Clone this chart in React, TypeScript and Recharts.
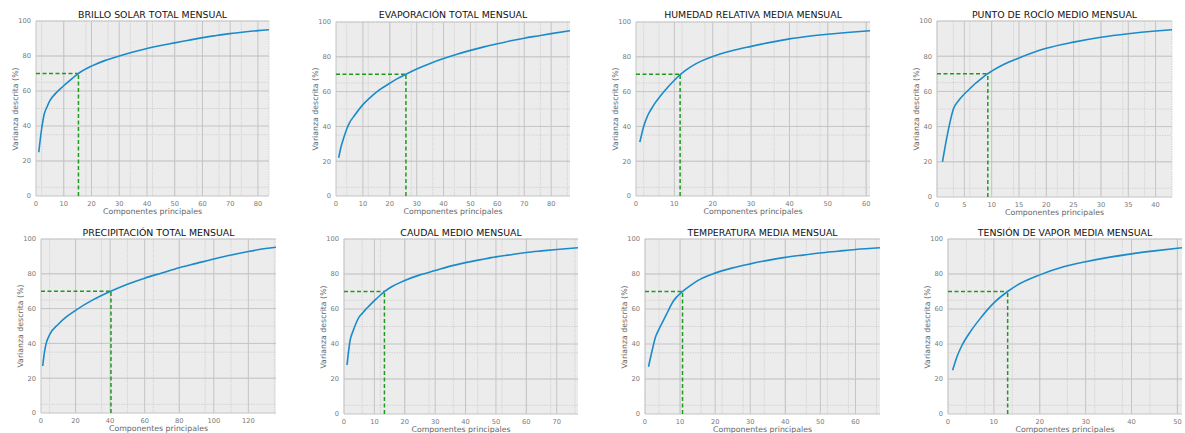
import React from 'react';
import { CartesianGrid, Line, LineChart, ReferenceLine, XAxis, YAxis } from 'recharts';

const titles = [
  'BRILLO SOLAR TOTAL MENSUAL',
  'EVAPORACIÓN TOTAL MENSUAL',
  'HUMEDAD RELATIVA MEDIA MENSUAL',
  'PUNTO DE ROCÍO MEDIO MENSUAL',
  'PRECIPITACIÓN TOTAL MENSUAL',
  'CAUDAL MEDIO MENSUAL',
  'TEMPERATURA MEDIA MENSUAL',
  'TENSIÓN DE VAPOR MEDIA MENSUAL',
];

const brilloX = [1, 2, 3, 4, 5, 7, 10, 12, 15, 20, 25, 30, 35, 40, 45, 50, 55, 60, 65, 70, 75, 80, 84];
const brilloY = [25, 38, 47, 51, 54.5, 58.5, 63, 65.8, 69.7, 74.2, 77.5, 80, 82.3, 84.3, 86, 87.5, 89, 90.5, 91.7, 92.8, 93.7, 94.5, 95];

const evapX = [1, 2, 3, 4, 5, 7, 10, 13, 16, 20, 23, 26, 30, 35, 40, 45, 50, 55, 60, 65, 70, 75, 80, 87];
const evapY = [22, 29, 34, 38.5, 42, 46.5, 52.5, 57, 60.8, 64.8, 67.6, 70, 73, 76.2, 79, 81.5, 83.7, 85.7, 87.5, 89.2, 90.7, 92, 93.3, 95];

const humedadX = [1, 2, 3, 4, 5, 6, 7, 8, 9, 10, 11, 12, 13, 15, 17, 20, 25, 30, 35, 40, 45, 50, 55, 61];
const humedadY = [31, 40, 46, 50, 53.5, 56.5, 59.2, 61.8, 64.2, 66.5, 68.7, 70.6, 72.3, 75.2, 77.5, 80.2, 83.5, 86, 88.3, 90.3, 91.8, 93, 94, 95];

const rocioX = [1, 2, 3, 4, 5, 6, 7, 8, 9, 10, 12, 15, 20, 25, 30, 35, 40, 43];
const rocioY = [20, 37, 50, 55, 58.5, 61.5, 64.5, 67, 69.5, 71.5, 75, 79, 84.5, 88, 90.8, 92.8, 94.3, 95];

const precipX = [1, 2, 3, 5, 10, 15, 20, 30, 40, 50, 60, 70, 80, 90, 100, 110, 120, 130, 136];
const precipY = [27, 35, 40, 45, 51, 55.5, 59, 65, 69.8, 74, 77.5, 80.5, 83.5, 86, 88.5, 90.8, 92.8, 94.5, 95.3];

const caudalX = [1, 2, 3, 4, 5, 6, 7, 8, 10, 12, 13, 15, 20, 25, 30, 35, 40, 45, 50, 55, 60, 65, 70, 77];
const caudalY = [28, 42, 47.5, 52, 55.5, 57.5, 59.5, 61.3, 64.8, 68, 69.5, 72, 76.3, 79.5, 82, 84.5, 86.5, 88.2, 89.8, 91, 92.3, 93.2, 94, 95];

const tempX = [1, 2, 3, 4, 5, 6, 7, 8, 9, 10, 11, 13, 15, 20, 25, 30, 35, 40, 45, 50, 55, 60, 67];
const tempY = [27, 36, 44, 48.5, 52.5, 56.5, 60.5, 64.3, 66.8, 68.8, 70.5, 73.5, 76.2, 80.5, 83.5, 85.8, 87.8, 89.5, 90.8, 92, 93, 94, 95];

const tensionX = [1, 2, 3, 5, 7, 10, 13, 15, 20, 25, 30, 35, 40, 45, 51];
const tensionY = [25, 33, 39, 47.5, 54.5, 63.5, 70, 73.5, 79.5, 84, 87, 89.5, 91.5, 93.2, 95];

const seriesX = [brilloX, evapX, humedadX, rocioX, precipX, caudalX, tempX, tensionX];
const seriesY = [brilloY, evapY, humedadY, rocioY, precipY, caudalY, tempY, tensionY];

// componentes necesarios para el 70 %
const thresholdPct = 70;
const thresholdComp = [15.3, 26, 11.5, 9.3, 40.5, 13.3, 10.7, 13];

const xMax = [84, 87, 61, 43, 136, 77, 67, 51];
const xMajor = [10, 10, 10, 5, 20, 10, 10, 10];
const xMinor = [2, 2, 2, 1, 5, 2, 2, 2];
const yTicks = [0, 20, 40, 60, 80, 100];

// plot-area boxes [left, top, right, bottom] in page pixels
const boxes = [
  [36, 21, 269, 196],
  [336, 22, 570, 196],
  [636, 22, 870, 196],
  [937, 21, 1172, 197],
  [41, 239, 276, 413],
  [344, 239, 578, 414],
  [645, 239, 880, 414],
  [948, 239, 1182, 414],
];

const FONT = '"DejaVu Sans", Verdana, sans-serif';
const Y_AXIS_W = 36;
const PAD = 4;
const X_AXIS_H = 16;

function steps(max: number, step: number) {
  const out: number[] = [];
  for (let v = 0; v <= max + 1e-9; v += step) out.push(Math.round(v * 100) / 100);
  return out;
}

function Panel({ i }: { i: number }) {
  const [l, t, r, b] = boxes[i];
  const data = seriesX[i].map((c, k) => ({ c, v: seriesY[i][k] }));
  const w = r - l + Y_AXIS_W + PAD;
  const h = b - t + PAD + X_AXIS_H;
  const cx = (l + r) / 2;
  const titleY = i < 4 ? 14 : 232;

  return (
    <>
      <div
        style={{
          position: 'absolute',
          left: cx,
          top: titleY,
          transform: 'translate(-50%, -50%)',
          whiteSpace: 'nowrap',
          fontSize: 9.4,
          color: '#111',
        }}
      >
        {titles[i]}
      </div>
      <div
        style={{
          position: 'absolute',
          left: l - 21,
          top: (t + b) / 2,
          transform: 'translate(-50%, -50%) rotate(-90deg)',
          whiteSpace: 'nowrap',
          fontSize: 7.8,
          color: '#666',
        }}
      >
        Varianza descrita (%)
      </div>
      <div
        style={{
          position: 'absolute',
          left: cx,
          top: b + 15,
          transform: 'translate(-50%, -50%)',
          whiteSpace: 'nowrap',
          fontSize: 7.8,
          color: '#666',
        }}
      >
        Componentes principales
      </div>
      <div style={{ position: 'absolute', left: l - Y_AXIS_W, top: t - PAD }}>
        <LineChart width={w} height={h} data={data} margin={{ top: PAD, right: PAD, left: 0, bottom: 0 }}>
          <CartesianGrid
            fill="#ececec"
            stroke="#d4d4d4"
            strokeDasharray="1.5 1"
            verticalValues={steps(xMax[i], xMinor[i])}
            horizontalValues={steps(100, 5)}
          />
          <CartesianGrid
            stroke="#c4c4c4"
            verticalValues={steps(xMax[i], xMajor[i])}
            horizontalValues={yTicks}
          />
          <XAxis
            type="number"
            dataKey="c"
            domain={[0, xMax[i]]}
            ticks={steps(xMax[i], xMajor[i])}
            allowDataOverflow
            height={X_AXIS_H}
            axisLine={false}
            tickLine={false}
            tickSize={3}
            tick={{ fill: '#777', fontSize: 6.7, fontFamily: FONT }}
          />
          <YAxis
            type="number"
            domain={[0, 100]}
            ticks={yTicks}
            width={Y_AXIS_W}
            axisLine={false}
            tickLine={false}
            tickSize={3}
            tick={{ fill: '#777', fontSize: 6.7, fontFamily: FONT }}
          />
          <ReferenceLine
            segment={[{ x: 0, y: thresholdPct }, { x: thresholdComp[i], y: thresholdPct }]}
            stroke="#1f9a1f"
            strokeWidth={1.5}
            strokeDasharray="4 2.5"
          />
          <ReferenceLine
            segment={[{ x: thresholdComp[i], y: 0 }, { x: thresholdComp[i], y: thresholdPct }]}
            stroke="#1f9a1f"
            strokeWidth={1.5}
            strokeDasharray="4 2.5"
          />
          <Line
            type="monotone"
            dataKey="v"
            stroke="#1a8bca"
            strokeWidth={1.6}
            dot={false}
            isAnimationActive={false}
          />
        </LineChart>
      </div>
    </>
  );
}

export default function App() {
  return (
    <div
      style={{
        position: 'absolute',
        left: 0,
        top: 0,
        width: 1185,
        height: 433,
        background: '#fff',
        fontFamily: FONT,
        overflow: 'hidden',
      }}
    >
      {titles.map((_, i) => (
        <Panel key={i} i={i} />
      ))}
    </div>
  );
}
